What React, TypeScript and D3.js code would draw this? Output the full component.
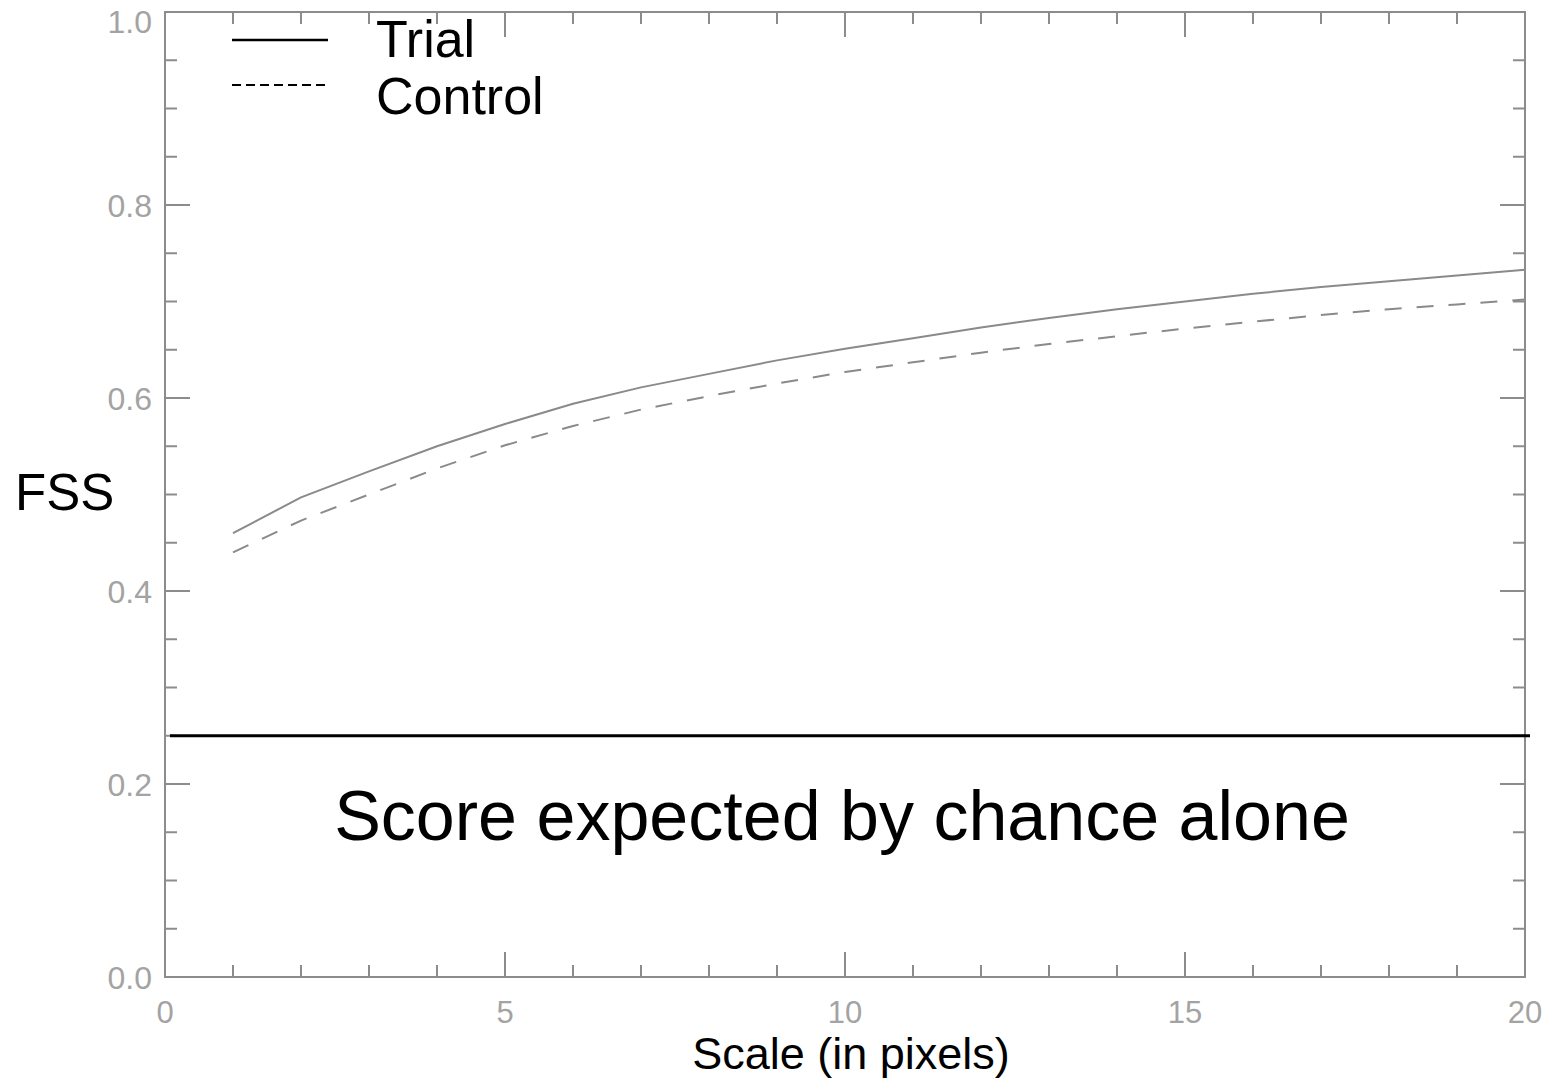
import React from "react";
import * as d3 from "d3";

const scales = d3.range(1, 21);
const trial = [0.460, 0.497, 0.524, 0.550, 0.573, 0.594, 0.611, 0.625, 0.639, 0.651, 0.662, 0.673, 0.683, 0.692, 0.700, 0.708, 0.715, 0.721, 0.727, 0.733];
const control = [0.440, 0.473, 0.500, 0.527, 0.551, 0.571, 0.588, 0.602, 0.615, 0.627, 0.637, 0.647, 0.656, 0.664, 0.672, 0.679, 0.686, 0.692, 0.697, 0.702];
const chanceScore = 0.25;
const xMajor = [0, 5, 10, 15, 20];
const xMinor = d3.range(0, 21, 1);
const yMajor = [0, 0.2, 0.4, 0.6, 0.8, 1.0];
const yMinor = d3.range(0, 1.0001, 0.05);
const legendItems = [
  { label: "Trial", dash: "none" },
  { label: "Control", dash: "9,5" },
];

const W = 1557, H = 1080;
const L = 165, R = 1525, T = 12, B = 977;

export default function App() {
  const x = d3.scaleLinear().domain([0, 20]).range([L, R]);
  const y = d3.scaleLinear().domain([0, 1]).range([B, T]);
  const line = d3.line<number>().x((_, i) => x(scales[i])).y((d) => y(d));
  const axisColor = "#8c8c8c";
  const labelColor = "#a3a3a3";
  const font = "'Liberation Sans', Arial, sans-serif";
  const isMajorX = (v: number) => xMajor.some((m) => Math.abs(m - v) < 1e-6);
  const isMajorY = (v: number) => yMajor.some((m) => Math.abs(m - v) < 1e-6);
  const MAJ = 25, MIN = 12;

  return (
    <svg width={W} height={H} style={{ position: "absolute", left: 0, top: 0, background: "#fff" }} fontFamily={font}>
      <rect x={0} y={0} width={W} height={H} fill="#fff" />
      {/* frame */}
      <rect x={L} y={T} width={R - L} height={B - T} fill="none" stroke={axisColor} strokeWidth={2} />
      {/* x ticks bottom & top */}
      {xMinor.map((v) => {
        const len = isMajorX(v) ? MAJ : MIN;
        return (
          <g key={"xt" + v} stroke={axisColor} strokeWidth={2}>
            <line x1={x(v)} x2={x(v)} y1={B} y2={B - len} />
            <line x1={x(v)} x2={x(v)} y1={T} y2={T + len} />
          </g>
        );
      })}
      {/* y ticks left & right */}
      {yMinor.map((v) => {
        const len = isMajorY(v) ? MAJ : MIN;
        return (
          <g key={"yt" + v.toFixed(2)} stroke={axisColor} strokeWidth={2}>
            <line x1={L} x2={L + len} y1={y(v)} y2={y(v)} />
            <line x1={R} x2={R - len} y1={y(v)} y2={y(v)} />
          </g>
        );
      })}
      {/* tick labels */}
      {xMajor.map((v) => (
        <text key={"xl" + v} x={x(v)} y={1023} textAnchor="middle" fontSize={31} fill={labelColor}>
          {v}
        </text>
      ))}
      {yMajor.map((v) => (
        <text key={"yl" + v} x={152} y={Math.max(y(v) + 12, 33)} textAnchor="end" fontSize={32} fill={labelColor}>
          {v.toFixed(1)}
        </text>
      ))}
      {/* chance line */}
      <line x1={x(0) + 5} x2={R + 5} y1={y(chanceScore)} y2={y(chanceScore)} stroke="#000" strokeWidth={3} />
      <text x={842} y={840} textAnchor="middle" fontSize={70} fill="#000">
        Score expected by chance alone
      </text>
      {/* data */}
      <path d={line(trial) || ""} fill="none" stroke="#8a8a8a" strokeWidth={2} />
      <path d={line(control) || ""} fill="none" stroke="#8a8a8a" strokeWidth={2} strokeDasharray="17,15" />
      {/* legend */}
      {legendItems.map((it, i) => (
        <g key={it.label}>
          <line x1={232} x2={328} y1={40 + i * 45} y2={40 + i * 45} stroke="#000" strokeWidth={it.dash === "none" ? 2.5 : 1.8} strokeDasharray={it.dash} />
          <text x={376} y={57 + i * 57} fontSize={52} fill="#000">
            {it.label}
          </text>
        </g>
      ))}
      {/* axis titles */}
      <text x={15} y={510} fontSize={51} fill="#000">FSS</text>
      <text x={851} y={1069} textAnchor="middle" fontSize={45} fill="#000">Scale (in pixels)</text>
    </svg>
  );
}
